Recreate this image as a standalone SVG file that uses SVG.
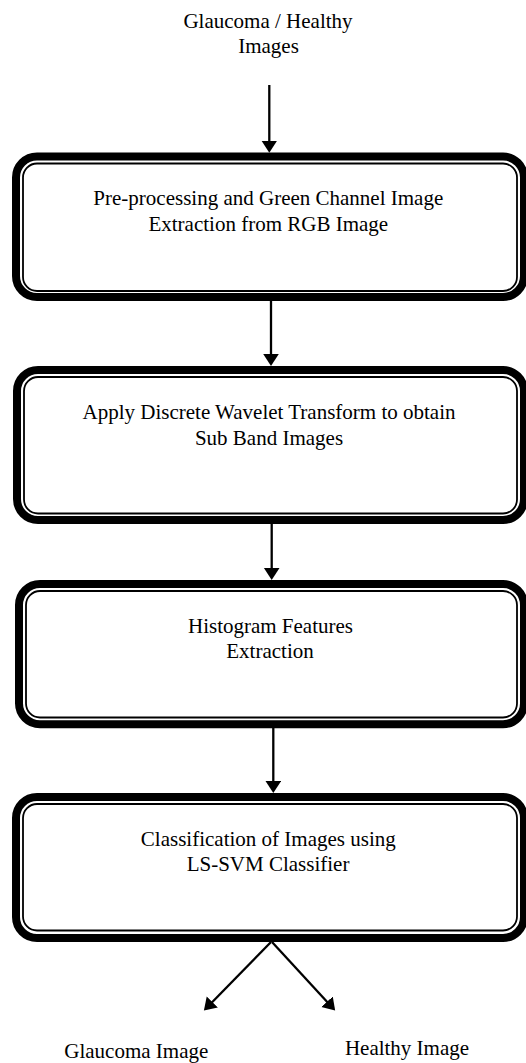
<svg xmlns="http://www.w3.org/2000/svg" width="526" height="1063" viewBox="0 0 526 1063">
<style>
.outer{fill:#fff;stroke:#000;stroke-width:8}
.inner{fill:none;stroke:#000;stroke-width:1.8}
.lbl{font-family:"Liberation Serif","Times New Roman",serif;font-size:21px;fill:#000;text-anchor:middle}
.conn{stroke:#000;stroke-width:2.3;fill:none;marker-end:url(#ah)}
</style>
<defs>
<marker id="ah" markerUnits="userSpaceOnUse" markerWidth="16" markerHeight="18" refX="1" refY="7.8" orient="auto">
<path d="M0,0 L12,7.8 L0,15.6 z" fill="#000"/>
</marker>
</defs>
<rect width="526" height="1063" fill="#fff"/>
<g id="input">
<text class="lbl" x="268" y="28.3">Glaucoma / Healthy</text>
<text class="lbl" x="268.5" y="53.3">Images</text>
</g>
<g id="box1">
<rect class="outer" x="16" y="156.5" width="508" height="140.5" rx="21"/>
<rect class="inner" x="23" y="163.5" width="494" height="127.5" rx="14"/>
<text class="lbl" x="268.3" y="205">Pre-processing and Green Channel Image</text>
<text class="lbl" x="268.3" y="230.5">Extraction from RGB Image</text>
</g>
<g id="box2">
<rect class="outer" x="17" y="370" width="507" height="150" rx="21"/>
<rect class="inner" x="24" y="377" width="493" height="136.5" rx="14"/>
<text class="lbl" x="269" y="419">Apply Discrete Wavelet Transform to obtain</text>
<text class="lbl" x="269" y="444.5">Sub Band Images</text>
</g>
<g id="box3">
<rect class="outer" x="19" y="584" width="505" height="140.3" rx="21"/>
<rect class="inner" x="26" y="591" width="491" height="126.5" rx="14"/>
<text class="lbl" x="270.5" y="633.3">Histogram Features</text>
<text class="lbl" x="270" y="658.3">Extraction</text>
</g>
<g id="box4">
<rect class="outer" x="16" y="797" width="508" height="141" rx="21"/>
<rect class="inner" x="23" y="804" width="494" height="126.5" rx="14"/>
<text class="lbl" x="268.3" y="846">Classification of Images using</text>
<text class="lbl" x="268" y="870.7">LS-SVM Classifier</text>
</g>
<g id="out-glaucoma">
<text class="lbl" x="136.3" y="1058.3">Glaucoma Image</text>
</g>
<g id="out-healthy">
<text class="lbl" x="407" y="1055">Healthy Image</text>
</g>
<g id="connectors">
<line class="conn" x1="269.3" y1="85" x2="269.3" y2="141.7"/>
<line class="conn" x1="271" y1="301" x2="271" y2="355"/>
<line class="conn" x1="271.7" y1="524" x2="271.7" y2="569"/>
<line class="conn" x1="273.3" y1="728" x2="273.3" y2="782"/>
<line class="conn" x1="271" y1="942" x2="211.6" y2="1002.7"/>
<line class="conn" x1="272" y1="942" x2="327.7" y2="1002.5"/>
</g>
</svg>
